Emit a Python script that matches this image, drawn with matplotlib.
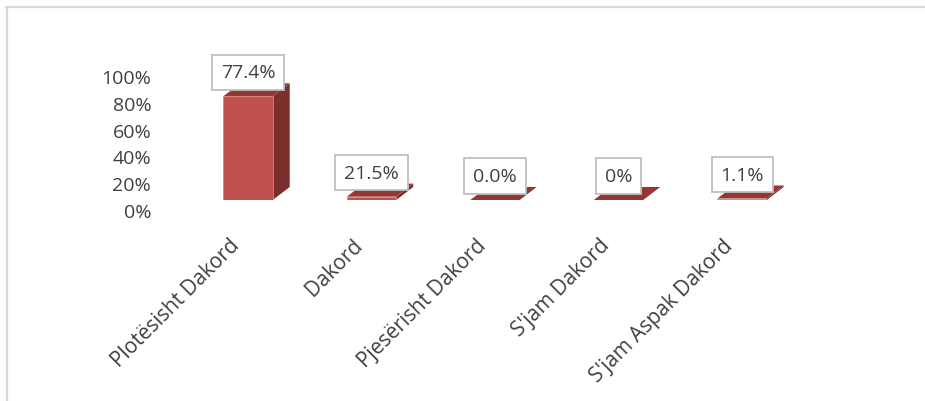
import numpy as np
import matplotlib
matplotlib.use("Agg")
import matplotlib.pyplot as plt
from matplotlib.patches import Polygon
from matplotlib.lines import Line2D
from matplotlib.transforms import ScaledTranslation

categories = ["Plotësisht Dakord", "Dakord", "Pjesërisht Dakord",
              "S'jam Dakord", "S'jam Aspak Dakord"]
heights = [77.4, 2.5, 0.0, 0.0, 1.1]          # drawn bar heights (%)
labels = ["77.4%", "21.5%", "0.0%", "0%", "1.1%"]
yticks = [0, 20, 40, 60, 80, 100]

FRONT = "#C0504D"
SIDE = "#7B2F2D"
TOP = "#943634"
TXT = "#404040"

plt.rcParams["font.family"] = ["Open Sans", "DejaVu Sans"]

fig = plt.figure(figsize=(9.25, 4.02), dpi=100)
ax = fig.add_axes([0.1613, 0.5, 0.7477, 0.3333])

x = np.arange(len(categories))
w = 0.4
dx = 17 / 123.5        # depth offset, data units
dy = 13 / 134 * 100

ax.bar(x, heights, w, color=FRONT, edgecolor="#D98583", lw=0.6, zorder=2)
for xi, h in zip(x, heights):
    side = [(xi + w/2, 0), (xi + w/2 + dx, dy), (xi + w/2 + dx, h + dy), (xi + w/2, h)]
    top = [(xi - w/2, h), (xi + w/2, h), (xi + w/2 + dx, h + dy), (xi - w/2 + dx, h + dy)]
    ax.add_patch(Polygon(side, closed=True, color=SIDE, lw=0, zorder=1))
    ax.add_patch(Polygon(top, closed=True, color=TOP, lw=0, zorder=1, clip_on=False))

for xi, h, lab in zip(x, heights, labels):
    ax.annotate(lab, (xi, h), xytext=(0, 24), textcoords="offset pixels",
                ha="center", va="center", fontsize=14, color=TXT, zorder=5,
                annotation_clip=False,
                bbox=dict(boxstyle="square,pad=0.45", fc="white",
                          ec="#BFBFBF", lw=1.3))

ax.set_xlim(-0.8, 4.8)
ax.set_ylim(0, 100)
ax.set_yticks(yticks)
ax.set_yticklabels([f"{t}%" for t in yticks], fontsize=14, color=TXT)
ax.set_xticks(x)
ax.set_xticklabels(categories, rotation=45, ha="right", va="center",
                   rotation_mode="anchor", fontsize=15, color=TXT)
ax.tick_params(length=0, pad=0)
for s in ax.spines.values():
    s.set_visible(False)
ax.patch.set_visible(False)

# shift tick labels like the back wall of the 3D chart
for t in ax.get_yticklabels():
    t.set_transform(t.get_transform() + ScaledTranslation(2/100, -10/100, fig.dpi_scale_trans))
for t in ax.get_xticklabels():
    t.set_transform(t.get_transform() + ScaledTranslation(-12/100, -42/100, fig.dpi_scale_trans))

# chart frame (top and left edges only)
fig.add_artist(Line2D([6.5/925, 6.5/925], [0, 1 - 8/402], color="#D9D9D9", lw=1.6))
fig.add_artist(Line2D([6/925, 1], [1 - 8/402, 1 - 8/402], color="#D9D9D9", lw=1.6))

fig.savefig("out.png", dpi=100, facecolor="white")
